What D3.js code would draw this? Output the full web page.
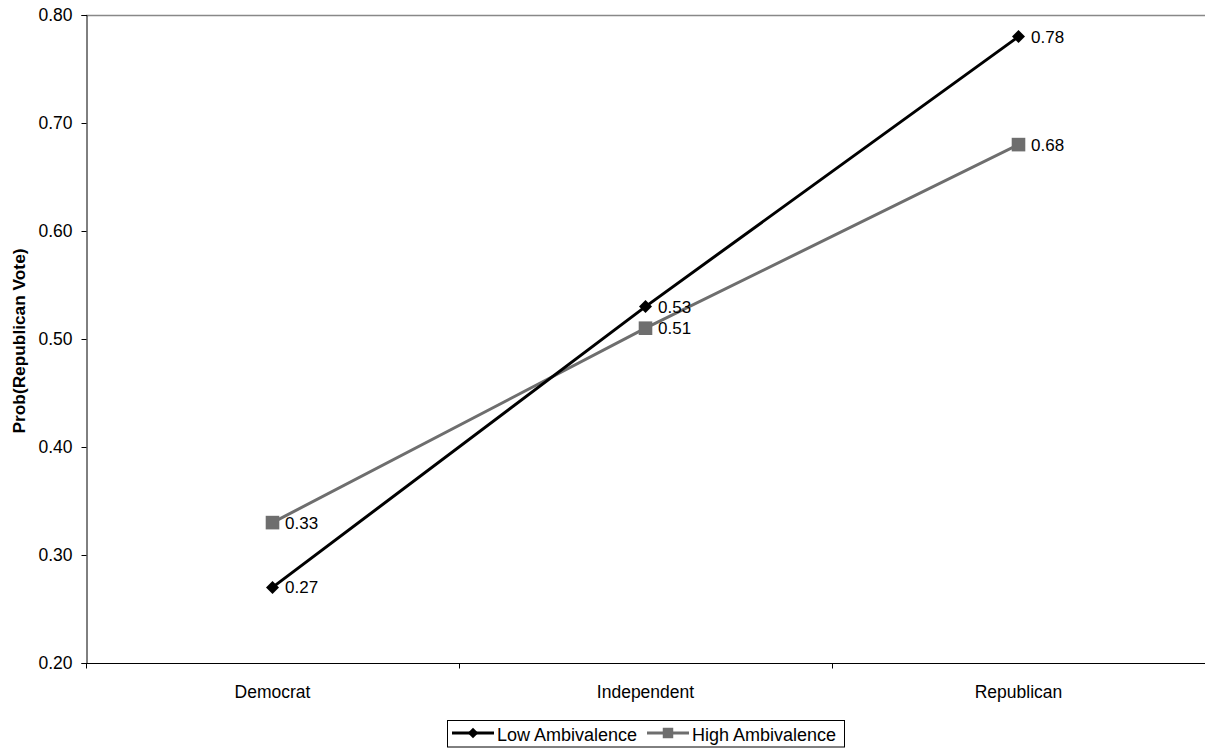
<!DOCTYPE html>
<html><head><meta charset="utf-8">
<script src="https://cdn.jsdelivr.net/npm/d3@7"></script>
<style>body{margin:0;background:#fff}svg{display:block;font-family:"Liberation Sans",Arial,sans-serif}</style>
</head><body>
<svg id="c" width="1205" height="750"></svg>
<script>
const categories = ["Democrat", "Independent", "Republican"];
const lowAmbivalence = [0.27, 0.53, 0.78];
const highAmbivalence = [0.33, 0.51, 0.68];
const yTicks = [0.20, 0.30, 0.40, 0.50, 0.60, 0.70, 0.80];
const seriesNames = ["Low Ambivalence", "High Ambivalence"];

const svg = d3.select("#c");
const L = 86, R = 1205, T = 15, B = 663;
const x = d3.scaleBand().domain(categories).range([L, R]);
const y = d3.scaleLinear().domain([0.2, 0.8]).range([B, T]);

// square diamond symbol (rotated square)
const squareDiamond = {
  draw(ctx, size) {
    const r = Math.sqrt(size / 2);
    ctx.moveTo(0, -r); ctx.lineTo(r, 0); ctx.lineTo(0, r); ctx.lineTo(-r, 0); ctx.closePath();
  }
};

// top border
svg.append("line").attr("x1", L).attr("x2", R).attr("y1", T + 0.5).attr("y2", T + 0.5)
  .attr("stroke", "#888").attr("stroke-width", 1.5);

const yAxis = svg.append("g").attr("transform", `translate(${L + 0.5},0)`)
  .call(d3.axisLeft(y).tickValues(yTicks).tickFormat(d3.format(".2f")).tickSize(5).tickPadding(9));
yAxis.select(".domain").attr("stroke", "#000");
yAxis.selectAll("text").attr("font-size", 17.5).attr("fill", "#000").attr("font-family", "Liberation Sans, Arial, sans-serif");

const xAxis = svg.append("g").attr("transform", `translate(0,${B + 0.5})`);
xAxis.append("line").attr("x1", L).attr("x2", R).attr("stroke", "#000");
const bounds = [L, ...categories.map(c => x(c) + x.bandwidth())];
xAxis.selectAll("line.tk").data(bounds).join("line").attr("class", "tk")
  .attr("x1", d => Math.round(d) + 0.5).attr("x2", d => Math.round(d) + 0.5).attr("y1", 0).attr("y2", 5).attr("stroke", "#000");
xAxis.selectAll("text").data(categories).join("text")
  .attr("x", d => x(d) + x.bandwidth() / 2).attr("y", 34)
  .attr("text-anchor", "middle").attr("font-size", 17.5).text(d => d);

svg.append("text").attr("transform", `translate(25,${(T + B) / 2 + 2}) rotate(-90)`)
  .attr("text-anchor", "middle").attr("font-size", 17.3).attr("font-weight", "bold").text("Prob(Republican Vote)");

const cx = c => x(c) + x.bandwidth() / 2;
const line = d3.line().x((d, i) => cx(categories[i])).y(d => y(d));

const series = [
  {name: seriesNames[1], vals: highAmbivalence, color: "#6e6e6e", sym: d3.symbolSquare, size: 185},
  {name: seriesNames[0], vals: lowAmbivalence, color: "#000", sym: squareDiamond, size: 85}
];
series.forEach(s => {
  svg.append("path").attr("d", line(s.vals)).attr("fill", "none").attr("stroke", s.color).attr("stroke-width", 3);
  svg.selectAll(null).data(s.vals).join("path")
    .attr("transform", (d, i) => `translate(${cx(categories[i])},${y(d)})`)
    .attr("d", d3.symbol().type(s.sym).size(s.size)).attr("fill", s.color);
  svg.selectAll(null).data(s.vals).join("text")
    .attr("x", (d, i) => cx(categories[i]) + 12.5).attr("y", d => y(d) + 6)
    .attr("font-size", 17).text(d => d.toFixed(2));
});

// legend
const lg = svg.append("g");
lg.append("rect").attr("x", 447.5).attr("y", 720.5).attr("width", 397).attr("height", 26.5)
  .attr("fill", "#fff").attr("stroke", "#000");
const legendItems = [
  {name: seriesNames[0], color: "#000", sym: squareDiamond, size: 55, x0: 452},
  {name: seriesNames[1], color: "#6e6e6e", sym: d3.symbolSquare, size: 110, x0: 647}
];
legendItems.forEach(s => {
  lg.append("line").attr("x1", s.x0).attr("x2", s.x0 + 42).attr("y1", 733).attr("y2", 733)
    .attr("stroke", s.color).attr("stroke-width", 3);
  lg.append("path").attr("transform", `translate(${s.x0 + 21},733)`)
    .attr("d", d3.symbol().type(s.sym).size(s.size)).attr("fill", s.color);
  lg.append("text").attr("x", s.x0 + 45).attr("y", 740.5).attr("font-size", 18).text(s.name);
});
</script>
</body></html>
